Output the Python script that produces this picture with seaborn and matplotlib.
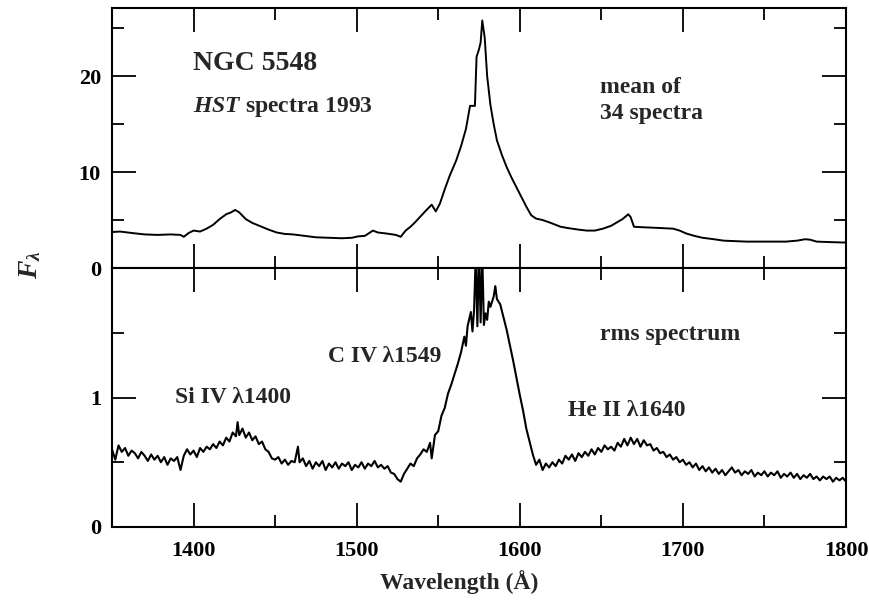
import numpy as np
import pandas as pd
import matplotlib
matplotlib.use("Agg")
import matplotlib.pyplot as plt
import seaborn as sns
from matplotlib.ticker import MultipleLocator, FixedLocator

# ---------------- data ----------------
mean_wave = [1350, 1355, 1362, 1370, 1378, 1386, 1392, 1394, 1397, 1400, 1404, 1408,
             1412, 1416, 1420, 1423, 1425.5, 1428, 1432, 1436, 1441, 1446, 1451, 1456,
             1461, 1468, 1475, 1483, 1491, 1497, 1501, 1505, 1510, 1513, 1518, 1524,
             1527, 1530, 1533, 1536, 1539, 1542, 1546, 1548.5, 1551, 1554, 1557, 1561,
             1564, 1567, 1569.5, 1572.5, 1573.5, 1575, 1576, 1577, 1578.5, 1580, 1582,
             1584, 1586, 1589, 1592, 1595, 1598, 1601, 1604, 1607, 1610, 1614, 1619,
             1625, 1630, 1636, 1641, 1646, 1651, 1656, 1660, 1663, 1666.5, 1668, 1670,
             1675, 1682, 1688, 1694, 1698, 1702, 1707, 1712, 1719, 1725, 1732, 1739,
             1747, 1755, 1763, 1770, 1775, 1778, 1782, 1790, 1800]
mean_flux = [3.75, 3.8, 3.65, 3.5, 3.45, 3.5, 3.45, 3.25, 3.65, 3.9, 3.8, 4.1,
             4.5, 5.1, 5.6, 5.8, 6.05, 5.8, 5.1, 4.7, 4.35, 4.0, 3.7, 3.55,
             3.5, 3.35, 3.2, 3.15, 3.1, 3.15, 3.3, 3.35, 3.9, 3.7, 3.6, 3.45,
             3.25, 3.9, 4.3, 4.8, 5.35, 5.9, 6.6, 5.9, 6.7, 8.2, 9.6, 11.2,
             12.7, 14.5, 16.9, 16.9, 22.0, 22.8, 23.5, 25.8, 24.0, 20.0, 17.0,
             15.0, 13.3, 11.8, 10.5, 9.4, 8.4, 7.4, 6.4, 5.5, 5.15, 5.0, 4.7,
             4.3, 4.15, 4.0, 3.9, 3.9, 4.1, 4.4, 4.8, 5.1, 5.6, 5.3, 4.3,
             4.25, 4.2, 4.15, 4.1, 3.9, 3.6, 3.35, 3.15, 3.0, 2.85, 2.8, 2.75,
             2.75, 2.75, 2.75, 2.85, 3.0, 2.95, 2.75, 2.7, 2.65]

rms_wave = [1350, 1352, 1354, 1356, 1358, 1360, 1362, 1364, 1366, 1368,
            1370, 1372, 1374, 1376, 1378, 1380, 1382, 1384, 1386, 1388,
            1390, 1392, 1394, 1396, 1398, 1400, 1402, 1404, 1406, 1408,
            1410, 1412, 1414, 1416, 1418, 1420, 1422, 1424, 1426, 1427,
            1428, 1430, 1432, 1434, 1436, 1438, 1440, 1442, 1444, 1446,
            1448, 1450, 1452, 1454, 1456, 1458, 1460, 1462, 1464, 1465,
            1467, 1469, 1471, 1473, 1475, 1477, 1479, 1481, 1483, 1485,
            1487, 1489, 1491, 1493, 1495, 1497, 1499, 1501, 1503, 1505,
            1507, 1509, 1511, 1513, 1515, 1517, 1519, 1521, 1523, 1525,
            1527, 1529, 1531, 1533, 1535, 1537, 1539, 1541, 1543, 1545,
            1546, 1548, 1550, 1552, 1554, 1556, 1558, 1560, 1562, 1564,
            1566, 1567, 1568, 1570, 1571, 1572, 1573, 1574, 1575, 1576,
            1577, 1578, 1579, 1580, 1581, 1582, 1584, 1585, 1586, 1588,
            1590, 1592, 1594, 1596, 1598, 1600, 1602, 1604, 1606, 1608,
            1610, 1612, 1614, 1616, 1618, 1620, 1622, 1624, 1626, 1628,
            1630, 1632, 1634, 1636, 1638, 1640, 1642, 1644, 1646, 1648,
            1650, 1652, 1654, 1656, 1658, 1660, 1662, 1664, 1666, 1668,
            1670, 1672, 1674, 1676, 1678, 1680, 1682, 1684, 1686, 1688,
            1690, 1692, 1694, 1696, 1698, 1700, 1702, 1704, 1706, 1708,
            1710, 1712, 1714, 1716, 1718, 1720, 1722, 1724, 1726, 1728,
            1730, 1732, 1734, 1736, 1738, 1740, 1742, 1744, 1746, 1748,
            1750, 1752, 1754, 1756, 1758, 1760, 1762, 1764, 1766, 1768,
            1770, 1772, 1774, 1776, 1778, 1780, 1782, 1784, 1786, 1788,
            1790, 1792, 1794, 1796, 1798, 1800]
rms_flux = [0.60, 0.52, 0.63, 0.58, 0.61, 0.55, 0.59, 0.57, 0.53, 0.58,
            0.55, 0.51, 0.56, 0.52, 0.55, 0.50, 0.54, 0.48, 0.53, 0.51,
            0.54, 0.44, 0.55, 0.60, 0.56, 0.59, 0.54, 0.61, 0.58, 0.62,
            0.60, 0.64, 0.61, 0.66, 0.63, 0.69, 0.66, 0.73, 0.70, 0.81,
            0.71, 0.76, 0.69, 0.73, 0.67, 0.70, 0.64, 0.66, 0.60, 0.58,
            0.53, 0.52, 0.54, 0.49, 0.52, 0.48, 0.51, 0.50, 0.62, 0.50,
            0.53, 0.47, 0.51, 0.45, 0.50, 0.47, 0.51, 0.44, 0.49, 0.46,
            0.50, 0.45, 0.49, 0.47, 0.50, 0.44, 0.48, 0.46, 0.50, 0.45,
            0.49, 0.47, 0.51, 0.46, 0.48, 0.45, 0.47, 0.42, 0.41, 0.37,
            0.35, 0.41, 0.45, 0.49, 0.47, 0.53, 0.56, 0.60, 0.58, 0.65,
            0.53, 0.71, 0.74, 0.86, 0.92, 1.03, 1.10, 1.18, 1.26, 1.35,
            1.47, 1.40, 1.55, 1.66, 1.51, 1.68, 2.10, 1.55, 2.15, 1.58,
            2.10, 1.56, 1.65, 1.60, 1.74, 1.70, 1.78, 1.86, 1.76, 1.72,
            1.62, 1.52, 1.40, 1.28, 1.15, 1.02, 0.90, 0.76, 0.66, 0.56,
            0.48, 0.52, 0.44, 0.49, 0.46, 0.50, 0.47, 0.52, 0.49, 0.55,
            0.52, 0.56, 0.51, 0.57, 0.54, 0.58, 0.55, 0.60, 0.56, 0.61,
            0.58, 0.63, 0.60, 0.62, 0.59, 0.65, 0.62, 0.68, 0.63, 0.69,
            0.64, 0.68, 0.62, 0.67, 0.63, 0.64, 0.59, 0.61, 0.57, 0.58,
            0.54, 0.56, 0.52, 0.54, 0.50, 0.52, 0.48, 0.50, 0.46, 0.49,
            0.44, 0.47, 0.43, 0.46, 0.42, 0.45, 0.41, 0.44, 0.40, 0.43,
            0.46, 0.42, 0.44, 0.40, 0.43, 0.41, 0.44, 0.39, 0.42, 0.40,
            0.43, 0.39, 0.42, 0.40, 0.43, 0.38, 0.41, 0.39, 0.42, 0.38,
            0.41, 0.37, 0.40, 0.38, 0.41, 0.37, 0.39, 0.36, 0.39, 0.37,
            0.39, 0.35, 0.38, 0.36, 0.38, 0.35]

x_ticks = [1400, 1500, 1600, 1700, 1800]
top_yticks = [0, 10, 20]
bot_yticks = [0, 1]

# ---------------- style ----------------
sns.set_theme(style="ticks")
plt.rcParams["font.family"] = ["Liberation Serif", "DejaVu Serif"]
plt.rcParams["font.weight"] = "bold"
plt.rcParams["mathtext.fontset"] = "custom"
plt.rcParams["mathtext.it"] = "Liberation Serif:italic:bold"
plt.rcParams["mathtext.rm"] = "Liberation Serif:bold"

fig = plt.figure(figsize=(8.7, 6.06), dpi=100)
L, R = 112 / 870, 846 / 870
y_top, y_mid, y_bot = 1 - 8 / 606, 1 - 268 / 606, 1 - 527 / 606
ax1 = fig.add_axes([L, y_mid, R - L, y_top - y_mid])
ax2 = fig.add_axes([L, y_bot, R - L, y_mid - y_bot], sharex=ax1)

df_mean = pd.DataFrame({"wave": mean_wave, "flux": mean_flux})
df_rms = pd.DataFrame({"wave": rms_wave, "flux": rms_flux})
sns.lineplot(data=df_mean, x="wave", y="flux", ax=ax1, color="black", lw=1.4,
             estimator=None, sort=False)
sns.lineplot(data=df_rms, x="wave", y="flux", ax=ax2, color="black", lw=1.5,
             estimator=None, sort=False)

ax1.set_xlim(1350, 1800)
ax1.set_ylim(0, 27.1)
ax2.set_ylim(0, 2.0)

for ax in (ax1, ax2):
    ax.set_xlabel("")
    ax.set_ylabel("")
    for s in ax.spines.values():
        s.set_visible(True)
        s.set_linewidth(1.5)
        s.set_color("black")
    ax.tick_params(which="both", direction="in", top=True, right=True,
                   width=1.3, colors="black", labelsize=16)
    ax.tick_params(which="major", length=17.5, pad=8)
    ax.tick_params(which="minor", length=8.5)
    ax.xaxis.set_major_locator(FixedLocator(x_ticks))
    ax.xaxis.set_minor_locator(MultipleLocator(50))

ax1.yaxis.set_major_locator(FixedLocator(top_yticks))
ax1.yaxis.set_minor_locator(MultipleLocator(5))
ax2.yaxis.set_major_locator(FixedLocator(bot_yticks))
ax2.yaxis.set_minor_locator(FixedLocator([0.5, 1.5]))
ax1.tick_params(axis="x", labelbottom=False)
ax2.tick_params(axis="x", pad=10)
for lab in ax2.get_xticklabels() + ax1.get_yticklabels() + ax2.get_yticklabels():
    lab.set_fontweight("bold")

# ---------------- annotations ----------------
ax1.text(1399.7, 21.35, "NGC 5548", fontsize=20, fontweight="bold", va="center", ha="left")
ax1.text(1399.7, 16.8, r"$HST$ spectra 1993", fontsize=17, fontweight="bold", va="center", ha="left")
ax1.text(1649.2, 18.85, "mean of", fontsize=17, fontweight="bold", va="center", ha="left")
ax1.text(1649.2, 16.15, "34 spectra", fontsize=17, fontweight="bold", va="center", ha="left")

ax2.text(1482.4, 1.32, "C IV λ1549", fontsize=17, fontweight="bold", va="center", ha="left")
ax2.text(1649.2, 1.49, "rms spectrum", fontsize=17, fontweight="bold", va="center", ha="left")
ax2.text(1388.6, 1.00, "Si IV λ1400", fontsize=17, fontweight="bold", va="center", ha="left")
ax2.text(1629.6, 0.90, "He II λ1640", fontsize=17, fontweight="bold", va="center", ha="left")

fig.text(459 / 870, 1 - 582 / 606, "Wavelength (Å)", fontsize=17, fontweight="bold",
         ha="center", va="center")
fig.text(30 / 870, 1 - 265 / 606, r"$F_{\lambda}$", fontsize=20, rotation=90,
         ha="center", va="center")

fig.savefig("out.png", dpi=100)
